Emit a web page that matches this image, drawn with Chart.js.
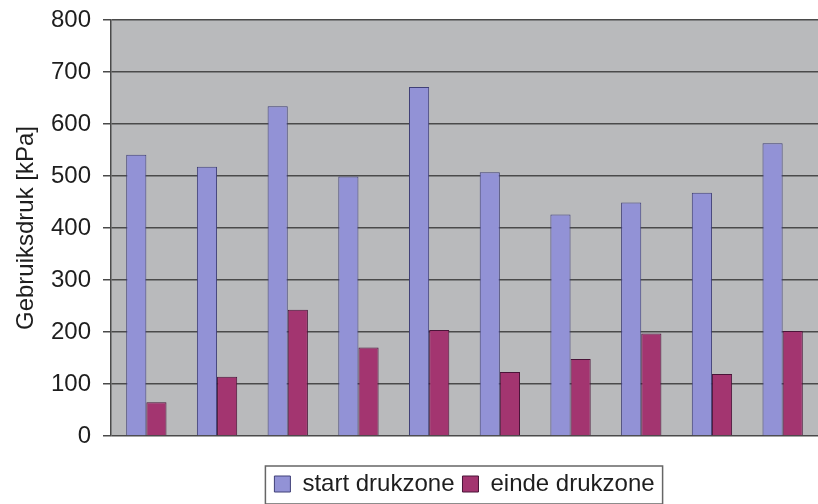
<!DOCTYPE html>
<html lang="nl">
<head>
  <meta charset="UTF-8"/>
  <title>Gebruiksdruk</title>
  <script src="https://cdn.jsdelivr.net/npm/chart.js"></script>
  <style>
    html, body { margin: 0; padding: 0; background: #fff; }
    #wrap { width: 818px; height: 504px; }
  </style>
</head>
<body>
  <div id="wrap"><canvas id="chart" width="818" height="504"></canvas></div>
  <script>
    const categories = ["1", "2", "3", "4", "5", "6", "7", "8", "9", "10"];
    const startDrukzone = [541, 518, 634, 499, 671, 507, 426, 449, 468, 563];
    const eindeDrukzone = [65, 114, 243, 170, 204, 123, 148, 197, 119, 202];
    const yTicks = [0, 100, 200, 300, 400, 500, 600, 700, 800];

    // grey plot background + border around the legend
    const decor = {
      id: "decor",
      beforeDraw(chart) {
        const { ctx, chartArea: a } = chart;
        ctx.save();
        ctx.fillStyle = "#b9babc";
        ctx.fillRect(a.left, a.top, a.right - a.left, a.bottom - a.top);
        ctx.restore();
      },
      afterDraw(chart) {
        const boxes = chart.legend.legendHitBoxes;
        if (!boxes || !boxes.length) return;
        const ctx = chart.ctx;
        let l = Infinity, r = -Infinity, t = Infinity, b = -Infinity;
        boxes.forEach(h => {
          l = Math.min(l, h.left); r = Math.max(r, h.left + h.width);
          t = Math.min(t, h.top); b = Math.max(b, h.top + h.height);
        });
        ctx.save();
        ctx.strokeStyle = "#666";
        ctx.lineWidth = 1.5;
        ctx.strokeRect(l - 9, t - 6, r - l + 17, b - t + 14);
        ctx.restore();
      }
    };

    new Chart(document.getElementById("chart"), {
      type: "bar",
      data: {
        labels: categories,
        datasets: [{
          label: "start drukzone",
          data: startDrukzone,
          backgroundColor: "#9292d6",
          borderColor: "#404078",
          borderWidth: 1
        }, {
          label: "einde drukzone",
          data: eindeDrukzone,
          backgroundColor: "#a33570",
          borderColor: "#4a1438",
          borderWidth: 1
        }]
      },
      options: {
        responsive: false,
        animation: false,
        layout: { padding: { top: 20, right: 0, left: 0, bottom: -2 } },
        datasets: { bar: { categoryPercentage: 0.57, barPercentage: 1 } },
        plugins: {
          legend: {
            position: "bottom",
            fullSize: false,
            labels: {
              color: "#1e1e1e",
              font: { family: "Liberation Sans", size: 24 },
              boxWidth: 16,
              boxHeight: 16,
              padding: 8
            }
          },
          tooltip: { enabled: false }
        },
        scales: {
          x: {
            grid: { display: false },
            border: { display: false },
            ticks: { display: false },
            afterFit(scale) { scale.height = 28; }
          },
          y: {
            min: 0,
            max: 800,
            afterBuildTicks(scale) { scale.ticks = yTicks.map(v => ({ value: v })); },
            grid: { color: "#4a4a4a", lineWidth: 1.5, tickLength: 8 },
            border: { display: true, color: "#4a4a4a", width: 1.5 },
            ticks: {
              color: "#1e1e1e",
              font: { family: "Liberation Sans", size: 24 },
              padding: 12
            },
            title: {
              display: true,
              text: "Gebruiksdruk [kPa]",
              color: "#1e1e1e",
              font: { family: "Liberation Sans", size: 24 },
              padding: { top: 12, bottom: 0 }
            },
            afterFit(scale) {
              scale.width = 111;
              scale.paddingTop = 0;
              scale.paddingBottom = 0;
            }
          }
        }
      },
      plugins: [decor]
    });
  </script>
</body>
</html>
